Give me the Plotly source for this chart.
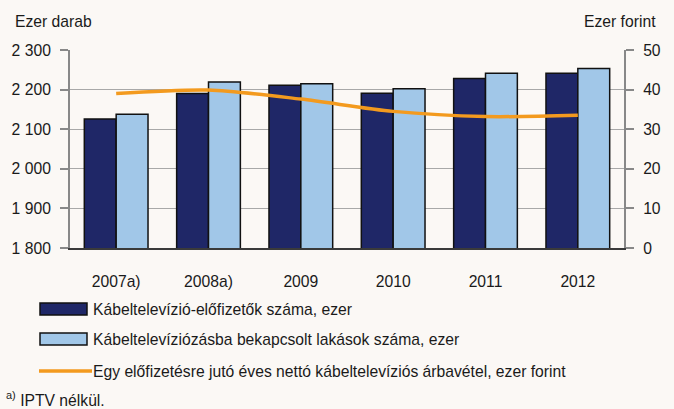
import plotly.graph_objects as go

# -------------------------------
# Data
# -------------------------------
years = ["2007a)", "2008a)", "2009", "2010", "2011", "2012"]
subscribers = [2126, 2190, 2211, 2191, 2228, 2241]        # Kábeltelevízió-előfizetők száma, ezer
connected_homes = [2138, 2219, 2215, 2202, 2241, 2253]    # bekapcsolt lakások száma, ezer
revenue_per_sub = [39.0, 39.9, 37.6, 34.5, 33.2, 33.5]    # ezer forint

left_ticks = [1800, 1900, 2000, 2100, 2200, 2300]
left_labels = ["1 800", "1 900", "2 000", "2 100", "2 200", "2 300"]
right_ticks = [0, 10, 20, 30, 40, 50]

names = [
    "Kábeltelevízió-előfizetők száma, ezer",
    "Kábeltelevíziózásba bekapcsolt lakások száma, ezer",
    "Egy előfizetésre jutó éves nettó kábeltelevíziós árbavétel, ezer forint",
]

# -------------------------------
# Colours / geometry
# -------------------------------
DARK = "#1F2767"
LIGHT = "#A1C7E8"
ORANGE = "#F39A1E"
BG = "#FBF8F5"
FONT = "Liberation Sans, Arial, sans-serif"
FS = 15.7
W, H = 674, 409
L, R, T, B = 70, 624, 50, 248


def px(x):
    return (x - L) / (R - L)


def py(y):
    return (B - y) / (B - T)


fig = go.Figure()

fig.add_trace(go.Bar(
    x=years, y=subscribers, name=names[0],
    marker=dict(color=DARK, line=dict(color="#111111", width=1.5)),
    showlegend=False,
))
fig.add_trace(go.Bar(
    x=years, y=connected_homes, name=names[1],
    marker=dict(color=LIGHT, line=dict(color="#111111", width=1.5)),
    showlegend=False,
))
fig.add_trace(go.Scatter(
    x=years, y=revenue_per_sub, name=names[2], yaxis="y2",
    mode="lines", line=dict(color=ORANGE, width=3.5, shape="spline", smoothing=0.8),
    showlegend=False,
))

# -------------------------------
# Hand-drawn legend (wide swatches like the original)
# -------------------------------
shapes = []
annotations = []
rows = [309, 339, 371]
for i, yc in enumerate(rows):
    if i < 2:
        shapes.append(dict(
            type="rect", xref="paper", yref="paper",
            x0=px(40), x1=px(87), y0=py(yc + 6), y1=py(yc - 6),
            fillcolor=[DARK, LIGHT][i], line=dict(color="#111111", width=1.5),
        ))
    else:
        shapes.append(dict(
            type="line", xref="paper", yref="paper",
            x0=px(39), x1=px(92), y0=py(yc), y1=py(yc),
            line=dict(color=ORANGE, width=3.5),
        ))
    annotations.append(dict(
        text=names[i], xref="paper", yref="paper",
        x=px(91), y=py(yc), xanchor="left", yanchor="middle",
        showarrow=False, font=dict(size=FS, color="#1a1a1a"),
    ))

annotations += [
    dict(text="Ezer darab", xref="paper", yref="paper", x=px(13), y=py(22),
         xanchor="left", yanchor="middle", showarrow=False, font=dict(size=FS)),
    dict(text="Ezer forint", xref="paper", yref="paper", x=px(658), y=py(22),
         xanchor="right", yanchor="middle", showarrow=False, font=dict(size=FS)),
    dict(text="<sup>a)</sup> IPTV nélkül.", xref="paper", yref="paper", x=px(4), y=py(399),
         xanchor="left", yanchor="middle", showarrow=False, font=dict(size=FS)),
]

fig.update_layout(
    width=W, height=H,
    margin=dict(l=L, r=W - R, t=T, b=H - B),
    paper_bgcolor=BG, plot_bgcolor=BG,
    font=dict(family=FONT, size=FS, color="#1a1a1a"),
    barmode="group", bargap=0.31, bargroupgap=0,
    shapes=shapes, annotations=annotations,
    xaxis=dict(
        type="category", showgrid=False, ticks="",
        showline=True, linecolor="#3a3a3a", linewidth=2,
        ticklabelstandoff=18,
    ),
    yaxis=dict(
        range=[1800, 2300], tickvals=left_ticks, ticktext=left_labels,
        showgrid=True, gridcolor="#A8A8A8", gridwidth=1.3,
        showline=True, linecolor="#888888", linewidth=2,
        ticks="outside", ticklen=8, tickcolor="#888888", tickwidth=2,
        ticklabelstandoff=6, zeroline=False,
    ),
    yaxis2=dict(
        range=[0, 50], tickvals=right_ticks, overlaying="y", side="right",
        showgrid=False, showline=True, linecolor="#888888", linewidth=2,
        ticks="outside", ticklen=8, tickcolor="#888888", tickwidth=2,
        ticklabelstandoff=6, zeroline=False,
    ),
)

# the page's default body margin shifts the figure by 8px; remove it
fig.write_html(
    "out.html",
    config={"displayModeBar": False},
    post_script="document.body.style.margin='0';",
)
